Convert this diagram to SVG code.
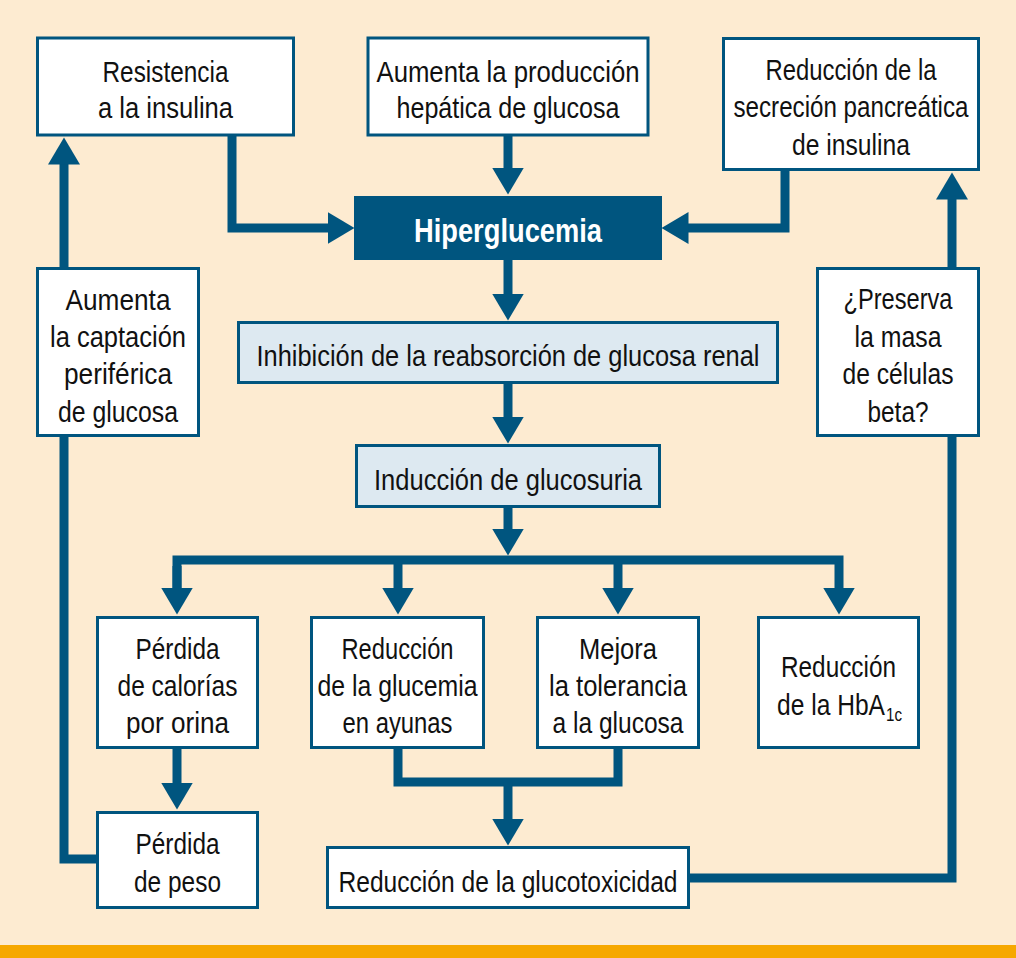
<svg xmlns="http://www.w3.org/2000/svg" width="1016" height="958" viewBox="0 0 1016 958">
<defs>
<style>
.box{fill:#ffffff;stroke:#00557f;stroke-width:3}
.lbox{fill:#dde9f1;stroke:#00557f;stroke-width:3}
.t{font-family:"Liberation Sans",Arial,sans-serif;font-size:30px;fill:#111111;text-anchor:middle}
.tb{font-family:"Liberation Sans",Arial,sans-serif;font-size:33px;font-weight:bold;fill:#ffffff;text-anchor:middle}
.c{fill:none;stroke:#00557f;stroke-width:9;stroke-linejoin:miter;stroke-linecap:butt}
</style>
<marker id="ah" markerUnits="userSpaceOnUse" markerWidth="28" markerHeight="32" viewBox="0 -16 28 32" refX="0.5" refY="0" orient="auto">
<path d="M0,-16 L27,0 L0,16 Z" fill="#00557f"/>
</marker>
</defs>
<rect x="0" y="0" width="1016" height="958" fill="#fdebd1"/>
<rect x="0" y="945" width="1016" height="13" fill="#f6a800"/>

<g id="connectors">
<path class="c" d="M232,136 V228 H328" marker-end="url(#ah)"/>
<path class="c" d="M508,136 V168" marker-end="url(#ah)"/>
<path class="c" d="M785,170 V228 H688" marker-end="url(#ah)"/>
<path class="c" d="M508,260 V294" marker-end="url(#ah)"/>
<path class="c" d="M508,384 V417" marker-end="url(#ah)"/>
<path class="c" d="M508,508 V529" marker-end="url(#ah)"/>
<path class="c" d="M177,588 V560 H839 V588" marker-end="url(#ah)"/>
<path class="c" d="M177,566 V588" marker-end="url(#ah)"/>
<path class="c" d="M398,560 V588" marker-end="url(#ah)"/>
<path class="c" d="M618,560 V588" marker-end="url(#ah)"/>
<path class="c" d="M177,749 V783" marker-end="url(#ah)"/>
<path class="c" d="M96,859 H64 V437"/>
<path class="c" d="M64,267 V164" marker-end="url(#ah)"/>
<path class="c" d="M398,749 V782 H618 V749"/>
<path class="c" d="M508,782 V819" marker-end="url(#ah)"/>
<path class="c" d="M690,878 H952 V437"/>
<path class="c" d="M952,267 V199" marker-end="url(#ah)"/>
</g>

<g id="n-resistencia">
<rect class="box" x="37.5" y="38" width="256" height="97"/>
<text class="t" x="165.5" y="82" textLength="126" lengthAdjust="spacingAndGlyphs">Resistencia</text>
<text class="t" x="165.5" y="118" textLength="135" lengthAdjust="spacingAndGlyphs">a la insulina</text>
</g>

<g id="n-produccion">
<rect class="box" x="368" y="38" width="280" height="97"/>
<text class="t" x="508" y="82" textLength="263" lengthAdjust="spacingAndGlyphs">Aumenta la producción</text>
<text class="t" x="508" y="118" textLength="223" lengthAdjust="spacingAndGlyphs">hepática de glucosa</text>
</g>

<g id="n-secrecion">
<rect class="box" x="723.5" y="38.5" width="255" height="131"/>
<text class="t" x="851" y="80" textLength="171" lengthAdjust="spacingAndGlyphs">Reducción de la</text>
<text class="t" x="851" y="117" textLength="235" lengthAdjust="spacingAndGlyphs">secreción pancreática</text>
<text class="t" x="851" y="155" textLength="118" lengthAdjust="spacingAndGlyphs">de insulina</text>
</g>

<g id="n-hiperglucemia">
<rect x="354" y="196" width="308" height="64" fill="#00557f"/>
<text class="tb" x="508" y="242" textLength="188" lengthAdjust="spacingAndGlyphs">Hiperglucemia</text>
</g>

<g id="n-captacion">
<rect class="box" x="37.5" y="268.5" width="161" height="167"/>
<text class="t" x="118" y="310" textLength="105" lengthAdjust="spacingAndGlyphs">Aumenta</text>
<text class="t" x="118" y="347" textLength="136" lengthAdjust="spacingAndGlyphs">la captación</text>
<text class="t" x="118" y="384" textLength="108" lengthAdjust="spacingAndGlyphs">periférica</text>
<text class="t" x="118" y="422" textLength="120" lengthAdjust="spacingAndGlyphs">de glucosa</text>
</g>

<g id="n-preserva">
<rect class="box" x="817.5" y="268.5" width="161" height="167"/>
<text class="t" x="898" y="309" textLength="109" lengthAdjust="spacingAndGlyphs">¿Preserva</text>
<text class="t" x="898" y="347" textLength="87" lengthAdjust="spacingAndGlyphs">la masa</text>
<text class="t" x="898" y="384" textLength="111" lengthAdjust="spacingAndGlyphs">de células</text>
<text class="t" x="898" y="422" textLength="61" lengthAdjust="spacingAndGlyphs">beta?</text>
</g>

<g id="n-inhibicion">
<rect class="lbox" x="238.5" y="322.5" width="539" height="60"/>
<text class="t" x="508" y="366" textLength="503" lengthAdjust="spacingAndGlyphs">Inhibición de la reabsorción de glucosa renal</text>
</g>

<g id="n-glucosuria">
<rect class="lbox" x="356.5" y="445.5" width="303" height="61"/>
<text class="t" x="508" y="490" textLength="268" lengthAdjust="spacingAndGlyphs">Inducción de glucosuria</text>
</g>

<g id="n-calorias">
<rect class="box" x="97.5" y="617.5" width="160" height="130"/>
<text class="t" x="177.5" y="659" textLength="84" lengthAdjust="spacingAndGlyphs">Pérdida</text>
<text class="t" x="177.5" y="696" textLength="120" lengthAdjust="spacingAndGlyphs">de calorías</text>
<text class="t" x="177.5" y="733" textLength="103" lengthAdjust="spacingAndGlyphs">por orina</text>
</g>

<g id="n-peso">
<rect class="box" x="97.5" y="812.5" width="160" height="95"/>
<text class="t" x="177.5" y="854" textLength="84" lengthAdjust="spacingAndGlyphs">Pérdida</text>
<text class="t" x="177.5" y="892" textLength="87" lengthAdjust="spacingAndGlyphs">de peso</text>
</g>

<g id="n-ayunas">
<rect class="box" x="311.5" y="617.5" width="172" height="130"/>
<text class="t" x="397.5" y="659" textLength="112" lengthAdjust="spacingAndGlyphs">Reducción</text>
<text class="t" x="397.5" y="696" textLength="160" lengthAdjust="spacingAndGlyphs">de la glucemia</text>
<text class="t" x="397.5" y="733" textLength="110" lengthAdjust="spacingAndGlyphs">en ayunas</text>
</g>

<g id="n-tolerancia">
<rect class="box" x="537.5" y="617.5" width="161" height="130"/>
<text class="t" x="618" y="659" textLength="78" lengthAdjust="spacingAndGlyphs">Mejora</text>
<text class="t" x="618" y="696" textLength="138" lengthAdjust="spacingAndGlyphs">la tolerancia</text>
<text class="t" x="618" y="733" textLength="131" lengthAdjust="spacingAndGlyphs">a la glucosa</text>
</g>

<g id="n-hba1c">
<rect class="box" x="758.5" y="617.5" width="160" height="130"/>
<text class="t" x="838.5" y="677" textLength="115" lengthAdjust="spacingAndGlyphs">Reducción</text>
<text class="t" x="777" y="715" style="text-anchor:start"><tspan textLength="108" lengthAdjust="spacingAndGlyphs">de la HbA</tspan><tspan x="886" y="721" font-size="18" textLength="16" lengthAdjust="spacingAndGlyphs">1c</tspan></text>
</g>

<g id="n-glucotoxicidad">
<rect class="box" x="327.5" y="847.5" width="361" height="60"/>
<text class="t" x="508" y="892" textLength="339" lengthAdjust="spacingAndGlyphs">Reducción de la glucotoxicidad</text>
</g>
</svg>
